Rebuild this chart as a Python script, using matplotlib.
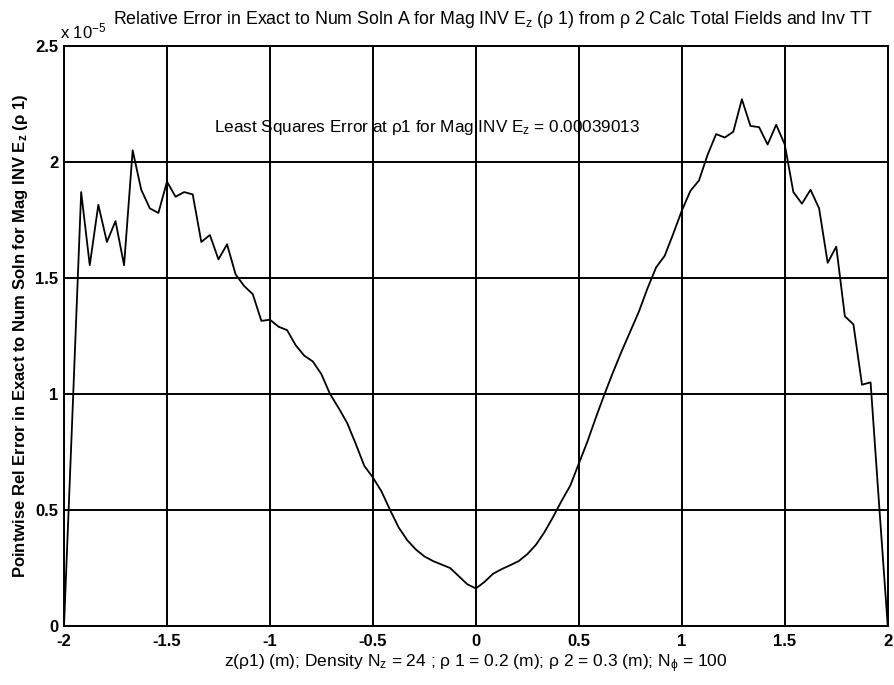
import numpy as np
import matplotlib
matplotlib.use('Agg')
import matplotlib.pyplot as plt

plt.rcParams['font.family'] = ['Liberation Sans', 'DejaVu Sans']
plt.rcParams['mathtext.fontset'] = 'custom'
plt.rcParams['mathtext.rm'] = 'Liberation Sans'
plt.rcParams['mathtext.it'] = 'Liberation Sans'
plt.rcParams['mathtext.bf'] = 'Liberation Sans:bold'

# z grid: 24 points per metre on [-2, 2]
z = np.linspace(-2, 2, 97)

# relative error, in units of 1e-5
err_left = [0.0, 0.93, 1.87, 1.555, 1.815, 1.655, 1.745, 1.555, 2.05, 1.88,
            1.80, 1.78, 1.915, 1.85, 1.87, 1.86, 1.655, 1.685, 1.58, 1.645,
            1.515, 1.465, 1.43, 1.315, 1.32]
err_mid_l = [1.29, 1.275, 1.21, 1.165, 1.14, 1.085, 1.0, 0.94, 0.875, 0.785,
             0.69, 0.64, 0.58, 0.50, 0.425, 0.37, 0.33, 0.30, 0.28, 0.265,
             0.25, 0.215, 0.18, 0.162]
err_mid_r = [0.19, 0.225, 0.245, 0.262, 0.28, 0.31, 0.35, 0.405, 0.47, 0.54,
             0.605, 0.70, 0.795, 0.90, 1.0, 1.095, 1.185, 1.27, 1.355, 1.455,
             1.545, 1.595, 1.69, 1.79]
err_right = [1.875, 1.92, 2.03, 2.12, 2.105, 2.13, 2.27, 2.155, 2.15, 2.075,
             2.16, 2.075, 1.87, 1.82, 1.88, 1.80, 1.565, 1.635, 1.335, 1.30,
             1.04, 1.05, 0.52, 0.0]
err = np.array(err_left + err_mid_l + err_mid_r + err_right)

xticks = [-2, -1.5, -1, -0.5, 0, 0.5, 1, 1.5, 2]
xticklabels = ['-2', '-1.5', '-1', '-0.5', '0', '0.5', '1', '1.5', '2']
yticks = [0, 0.5, 1, 1.5, 2, 2.5]
yticklabels = ['0', '0.5', '1', '1.5', '2', '2.5']

fig = plt.figure(figsize=(8.94, 6.85), dpi=100)
ax = fig.add_axes([0.0716, 0.0861, 0.9214, 0.8469])

ax.plot(z, err, color='black', lw=1.3)

ax.set_xlim(-2, 2)
ax.set_ylim(0, 2.5)
ax.set_xticks(xticks)
ax.set_xticklabels(xticklabels, fontsize=12, fontweight='bold')
ax.set_yticks(yticks)
ax.set_yticklabels(yticklabels, fontsize=12, fontweight='bold')
ax.tick_params(axis='x', length=0, pad=6)
ax.tick_params(axis='y', length=0, pad=4)
ax.grid(True, color='black', lw=1.4)
for s in ax.spines.values():
    s.set_linewidth(1.4)

ax.set_title(r'Relative Error in Exact to Num Soln A for Mag INV $E_z$ (ρ 1) from ρ 2 Calc Total Fields and Inv TT',
             fontsize=12.8, pad=16, x=0.52)
ax.set_xlabel(r'z(ρ1) (m); Density $N_z$ = 24 ; ρ 1 = 0.2 (m); ρ 2 = 0.3 (m); $N_\phi$ = 100',
              fontsize=12.5, labelpad=2)
ax.set_ylabel(r'Pointwise Rel Error in Exact to Num Soln for Mag INV $\mathbf{E_z}$ (ρ 1)',
              fontsize=12, fontweight='bold', labelpad=4)

ax.text(-1.27, 2.15, r'Least Squares Error at ρ1 for Mag INV $E_z$ = 0.00039013',
        fontsize=12.3, va='center', ha='left')
ax.text(-0.005, 1.008, r'x 10$^{-5}$', transform=ax.transAxes, fontsize=12,
        ha='left', va='bottom')

fig.savefig('out.png', dpi=100)
